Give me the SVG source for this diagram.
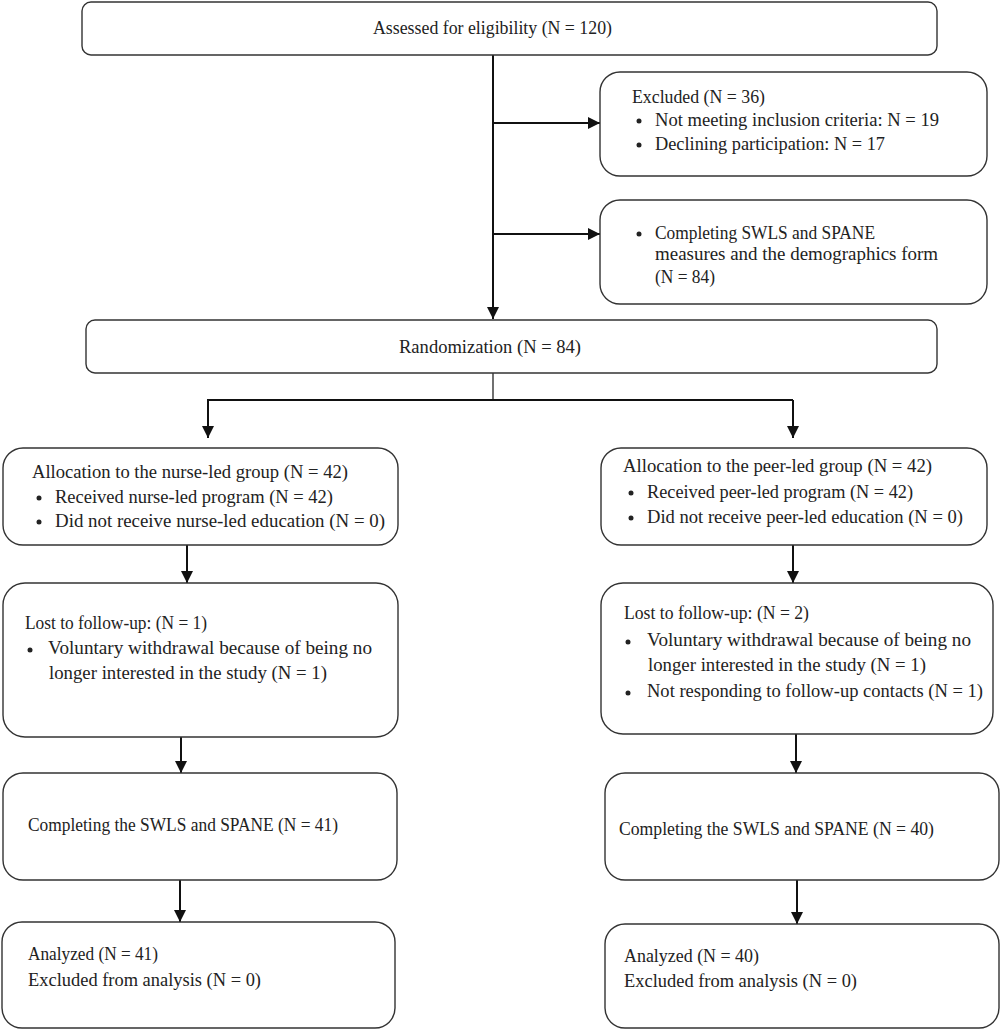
<svg xmlns="http://www.w3.org/2000/svg" width="1000" height="1030" viewBox="0 0 1000 1030">
<style>
.box{fill:#fff;stroke:#333;stroke-width:1.4}
.t{font-family:"Liberation Serif",serif;font-size:18px;fill:#222}
.ln{stroke:#111;stroke-width:2;fill:none}
.b{fill:#222}
</style>
<defs>
<marker id="ah" viewBox="0 0 10 10" refX="10" refY="5" markerWidth="6" markerHeight="6" markerUnits="strokeWidth" orient="auto">
<path d="M0,0 L10,5 L0,10 z" fill="#111"/>
</marker>
</defs>
<rect width="1000" height="1030" fill="#fff"/>
<g id="connectors">
<line class="ln" x1="493" y1="55" x2="493" y2="319" marker-end="url(#ah)"/>
<line class="ln" x1="493" y1="123" x2="600" y2="123" marker-end="url(#ah)"/>
<line class="ln" x1="493" y1="234" x2="600" y2="234" marker-end="url(#ah)"/>
<line class="ln" x1="493" y1="373" x2="493" y2="400" style="stroke-width:1.2"/>
<line class="ln" x1="207" y1="400" x2="793" y2="400"/>
<line class="ln" x1="208" y1="400" x2="208" y2="438" marker-end="url(#ah)"/>
<line class="ln" x1="793" y1="400" x2="793" y2="438" marker-end="url(#ah)"/>
<line class="ln" x1="187" y1="545" x2="187" y2="583" marker-end="url(#ah)"/>
<line class="ln" x1="793" y1="545" x2="793" y2="583" marker-end="url(#ah)"/>
<line class="ln" x1="181" y1="737" x2="181" y2="773" marker-end="url(#ah)"/>
<line class="ln" x1="796" y1="734" x2="796" y2="773" marker-end="url(#ah)"/>
<line class="ln" x1="180" y1="880" x2="180" y2="922" marker-end="url(#ah)"/>
<line class="ln" x1="797" y1="880" x2="797" y2="924" marker-end="url(#ah)"/>
</g>
<g id="assessed">
<rect class="box" x="82" y="2" width="855" height="53" rx="9"/>
<text class="t" x="373" y="34" textLength="239" lengthAdjust="spacingAndGlyphs">Assessed for eligibility (N = 120)</text>
</g>
<g id="excluded">
<rect class="box" x="600" y="72" width="387" height="104" rx="20"/>
<text class="t" x="632" y="103" textLength="133" lengthAdjust="spacingAndGlyphs">Excluded (N = 36)</text>
<circle class="b" cx="639" cy="121" r="2.5"/>
<text class="t" x="655" y="126" textLength="284" lengthAdjust="spacingAndGlyphs">Not meeting inclusion criteria: N = 19</text>
<circle class="b" cx="639" cy="145" r="2.5"/>
<text class="t" x="655" y="150" textLength="230" lengthAdjust="spacingAndGlyphs">Declining participation: N = 17</text>
</g>
<g id="completing-baseline">
<rect class="box" x="600" y="200" width="387" height="104" rx="20"/>
<circle class="b" cx="639" cy="234" r="2.5"/>
<text class="t" x="655" y="239" textLength="220" lengthAdjust="spacingAndGlyphs">Completing SWLS and SPANE</text>
<text class="t" x="655" y="260" textLength="283" lengthAdjust="spacingAndGlyphs">measures and the demographics form</text>
<text class="t" x="655" y="283" textLength="60" lengthAdjust="spacingAndGlyphs">(N = 84)</text>
</g>
<g id="randomization">
<rect class="box" x="86" y="320" width="851" height="53" rx="9"/>
<text class="t" x="399" y="353" textLength="182" lengthAdjust="spacingAndGlyphs">Randomization (N = 84)</text>
</g>
<g id="alloc-nurse">
<rect class="box" x="3" y="448" width="395" height="97" rx="20"/>
<text class="t" x="32" y="478" textLength="316" lengthAdjust="spacingAndGlyphs">Allocation to the nurse-led group (N = 42)</text>
<circle class="b" cx="39" cy="498" r="2.5"/>
<text class="t" x="55" y="503" textLength="278" lengthAdjust="spacingAndGlyphs">Received nurse-led program (N = 42)</text>
<circle class="b" cx="39" cy="522" r="2.5"/>
<text class="t" x="55" y="527" textLength="330" lengthAdjust="spacingAndGlyphs">Did not receive nurse-led education (N = 0)</text>
</g>
<g id="alloc-peer">
<rect class="box" x="601" y="448" width="386" height="97" rx="20"/>
<text class="t" x="623" y="472" textLength="309" lengthAdjust="spacingAndGlyphs">Allocation to the peer-led group (N = 42)</text>
<circle class="b" cx="631" cy="493" r="2.5"/>
<text class="t" x="647" y="498" textLength="266" lengthAdjust="spacingAndGlyphs">Received peer-led program (N = 42)</text>
<circle class="b" cx="631" cy="518" r="2.5"/>
<text class="t" x="647" y="523" textLength="316" lengthAdjust="spacingAndGlyphs">Did not receive peer-led education (N = 0)</text>
</g>
<g id="lost-nurse">
<rect class="box" x="3" y="583" width="395" height="154" rx="22"/>
<text class="t" x="25" y="629" textLength="182" lengthAdjust="spacingAndGlyphs">Lost to follow-up: (N = 1)</text>
<circle class="b" cx="30" cy="650" r="2.5"/>
<text class="t" x="48" y="654" textLength="324" lengthAdjust="spacingAndGlyphs">Voluntary withdrawal because of being no</text>
<text class="t" x="49" y="679" textLength="278" lengthAdjust="spacingAndGlyphs">longer interested in the study (N = 1)</text>
</g>
<g id="lost-peer">
<rect class="box" x="601" y="583" width="392" height="151" rx="22"/>
<text class="t" x="624" y="619" textLength="185" lengthAdjust="spacingAndGlyphs">Lost to follow-up: (N = 2)</text>
<circle class="b" cx="628" cy="642" r="2.5"/>
<text class="t" x="647" y="646" textLength="324" lengthAdjust="spacingAndGlyphs">Voluntary withdrawal because of being no</text>
<text class="t" x="648" y="671" textLength="278" lengthAdjust="spacingAndGlyphs">longer interested in the study (N = 1)</text>
<circle class="b" cx="628" cy="693" r="2.5"/>
<text class="t" x="647" y="697" textLength="336" lengthAdjust="spacingAndGlyphs">Not responding to follow-up contacts (N = 1)</text>
</g>
<g id="complete-nurse">
<rect class="box" x="3" y="773" width="394" height="107" rx="20"/>
<text class="t" x="28" y="831" textLength="310" lengthAdjust="spacingAndGlyphs">Completing the SWLS and SPANE (N = 41)</text>
</g>
<g id="complete-peer">
<rect class="box" x="605" y="773" width="394" height="107" rx="20"/>
<text class="t" x="619" y="835" textLength="315" lengthAdjust="spacingAndGlyphs">Completing the SWLS and SPANE (N = 40)</text>
</g>
<g id="analyzed-nurse">
<rect class="box" x="2" y="922" width="393" height="106" rx="20"/>
<text class="t" x="28" y="960" textLength="130" lengthAdjust="spacingAndGlyphs">Analyzed (N = 41)</text>
<text class="t" x="28" y="986" textLength="233" lengthAdjust="spacingAndGlyphs">Excluded from analysis (N = 0)</text>
</g>
<g id="analyzed-peer">
<rect class="box" x="605" y="924" width="394" height="104" rx="20"/>
<text class="t" x="624" y="962" textLength="135" lengthAdjust="spacingAndGlyphs">Analyzed (N = 40)</text>
<text class="t" x="624" y="987" textLength="233" lengthAdjust="spacingAndGlyphs">Excluded from analysis (N = 0)</text>
</g>
</svg>
